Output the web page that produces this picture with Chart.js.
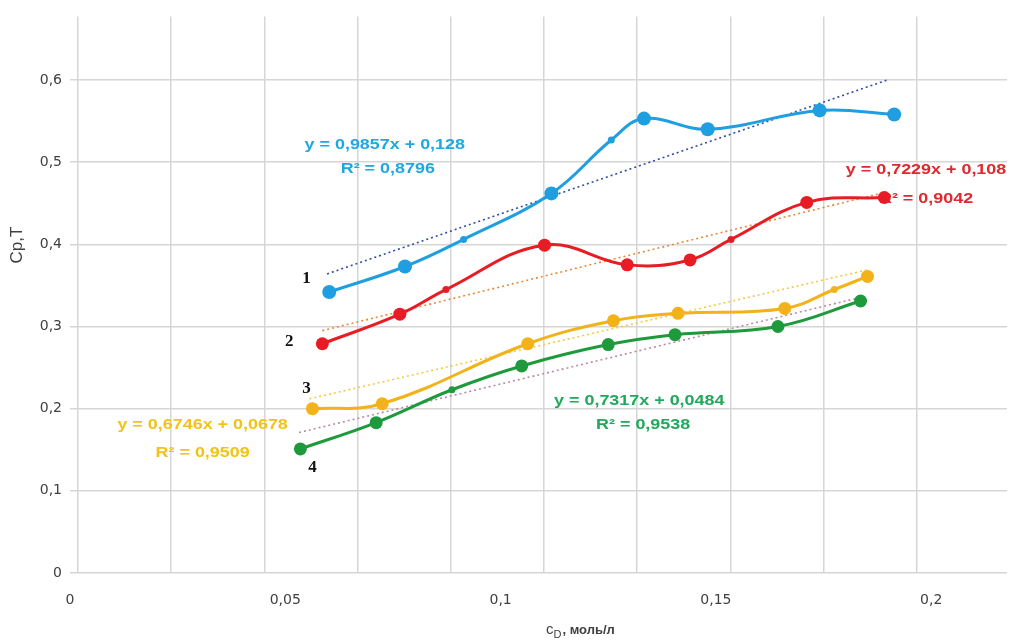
<!DOCTYPE html>
<html lang="ru">
<head>
<meta charset="utf-8">
<title>Cр,Т — cD</title>
<script src="https://cdn.jsdelivr.net/npm/chart.js@4.4.1/dist/chart.umd.min.js"></script>
<style>
  html, body { margin: 0; padding: 0; background: #ffffff; }
  #wrap { width: 1014px; height: 644px; position: relative; }
  canvas { display: block; }
</style>
</head>
<body>
<div id="wrap"><canvas id="chart" width="1014" height="644"></canvas></div>
<script>
// Concentration (моль/л) and Cр,Т values for the four curves
const conc1 = [0.0602, 0.0778, 0.0914, 0.1118, 0.1257, 0.1333, 0.1481, 0.1741, 0.1914];
const cpt1  = [0.342, 0.373, 0.406, 0.462, 0.527, 0.553, 0.540, 0.563, 0.558];

const conc2 = [0.0586, 0.0766, 0.0873, 0.1102, 0.1294, 0.1440, 0.1535, 0.1711, 0.1891];
const cpt2  = [0.279, 0.315, 0.345, 0.399, 0.375, 0.381, 0.406, 0.451, 0.457];

const conc3 = [0.0563, 0.0725, 0.1063, 0.1262, 0.1412, 0.1660, 0.1775, 0.1852];
const cpt3  = [0.200, 0.206, 0.279, 0.307, 0.316, 0.322, 0.345, 0.361];

const conc4 = [0.0535, 0.0711, 0.0887, 0.1049, 0.1250, 0.1405, 0.1644, 0.1836];
const cpt4  = [0.151, 0.183, 0.223, 0.252, 0.278, 0.290, 0.300, 0.331];

// Linear trend lines (end points)
const trendX1 = [0.0597, 0.1898], trendY1 = [0.364, 0.600];
const trendX2 = [0.0586, 0.1891], trendY2 = [0.295, 0.463];
const trendX3 = [0.0556, 0.1852], trendY3 = [0.212, 0.369];
const trendX4 = [0.0532, 0.1833], trendY4 = [0.171, 0.335];

// Which points carry a large marker
const big1 = [1, 1, 0, 1, 0, 1, 1, 1, 1];
const big2 = [1, 1, 0, 1, 1, 1, 0, 1, 1];
const big3 = [1, 1, 1, 1, 1, 1, 0, 1];
const big4 = [1, 1, 0, 1, 1, 1, 1, 1];

// Tick values and curve labels
const xTicks = [0, 0.05, 0.1, 0.15, 0.2];
const yTicks = [0, 0.1, 0.2, 0.3, 0.4, 0.5, 0.6];
const gridSteps = [0, 1, 2, 3, 4, 5, 6, 7, 8, 9];
const curveNames = ['1', '2', '3', '4'];
const equations = [
  ['y = 0,9857x + 0,128', 'R² = 0,8796'],
  ['y = 0,7229x + 0,108', 'R² = 0,9042'],
  ['y = 0,6746x + 0,0678', 'R² = 0,9509'],
  ['y = 0,7317x + 0,0484', 'R² = 0,9538']
];

const pts = (xs, ys) => xs.map((x, i) => ({ x: x, y: ys[i] }));
const fmt = v => String(Math.round(v * 1000) / 1000).replace('.', ',');

const colors = ['#1f9fe0', '#e81c24', '#f4b21a', '#1e9a3c'];
const textColors = ['#1fa8e0', '#e0282e', '#f2c316', '#22a85a'];
const trendColors = ['#2f4fa0', '#e6893a', '#f5c842', '#b98aa8'];
const bigRadius = [7, 6.5, 6.5, 6.5];

function curve(xs, ys, big, color, r) {
  return {
    data: pts(xs, ys),
    borderColor: color,
    backgroundColor: color,
    borderWidth: 3,
    tension: 0.4,
    pointRadius: big.map(b => b ? r : 3.5),
    pointBorderWidth: 0,
    pointHoverRadius: r,
    xAxisID: 'x',
    yAxisID: 'y'
  };
}
function trend(xs, ys, color) {
  return {
    data: pts(xs, ys),
    borderColor: color,
    borderWidth: 1.6,
    borderDash: [2, 3],
    pointRadius: 0,
    tension: 0,
    xAxisID: 'x',
    yAxisID: 'y'
  };
}

// Equation texts, curve numbers and axis titles
const notesPlugin = {
  id: 'notes',
  beforeDatasetsDraw(chart) {
    const ctx = chart.ctx;
    const xs = chart.scales.x, ys = chart.scales.y;
    const eqPos = [
      [[0.0731, 0.521], [0.0738, 0.491]],
      [[0.1988, 0.490], [0.1988, 0.455]],
      [[0.0308, 0.180], [0.0308, 0.146]],
      [[0.1322, 0.209], [0.1331, 0.180]]
    ];
    ctx.save();
    ctx.font = 'bold 14px "Liberation Sans", Arial, sans-serif';
    ctx.textAlign = 'center';
    ctx.textBaseline = 'middle';
    equations.forEach((lines, k) => {
      ctx.fillStyle = textColors[k];
      lines.forEach((t, j) => {
        const px = xs.getPixelForValue(eqPos[k][j][0]);
        const py = ys.getPixelForValue(eqPos[k][j][1]);
        ctx.save();
        ctx.translate(px, py);
        ctx.scale(1.28, 1);
        ctx.fillText(t, 0, 0);
        ctx.restore();
      });
    });
    ctx.restore();
  },
  afterDraw(chart) {
    const ctx = chart.ctx;
    const xs = chart.scales.x, ys = chart.scales.y;
    const namePos = [[0.0549, 0.358], [0.0509, 0.282], [0.0549, 0.224], [0.0563, 0.128]];
    ctx.save();
    ctx.fillStyle = '#111111';
    ctx.font = 'bold 17px "Liberation Serif", "Times New Roman", serif';
    ctx.textAlign = 'center';
    ctx.textBaseline = 'middle';
    curveNames.forEach((n, k) => {
      ctx.fillText(n, xs.getPixelForValue(namePos[k][0]), ys.getPixelForValue(namePos[k][1]));
    });

    // y-axis title
    ctx.fillStyle = '#404040';
    ctx.font = '17px "Liberation Sans", Arial, sans-serif';
    ctx.save();
    ctx.translate(17, 245);
    ctx.rotate(-Math.PI / 2);
    ctx.fillText('Ср,Т', 0, 0);
    ctx.restore();

    // x-axis title with subscript
    ctx.textAlign = 'left';
    ctx.textBaseline = 'alphabetic';
    let x0 = 546, y0 = 634;
    ctx.font = '15px "Liberation Sans", Arial, sans-serif';
    ctx.fillText('c', x0, y0);
    x0 += ctx.measureText('c').width;
    ctx.font = '11px "Liberation Sans", Arial, sans-serif';
    ctx.fillText('D', x0, y0 + 4);
    x0 += ctx.measureText('D').width + 1;
    ctx.font = 'bold 13px "Liberation Sans", Arial, sans-serif';
    ctx.fillText(', моль/л', x0, y0);
    ctx.restore();
  }
};

new Chart(document.getElementById('chart'), {
  type: 'line',
  data: {
    datasets: [
      curve(conc1, cpt1, big1, colors[0], bigRadius[0]),
      curve(conc2, cpt2, big2, colors[1], bigRadius[1]),
      curve(conc3, cpt3, big3, colors[2], bigRadius[2]),
      curve(conc4, cpt4, big4, colors[3], bigRadius[3]),
      trend(trendX1, trendY1, trendColors[0]),
      trend(trendX2, trendY2, trendColors[1]),
      trend(trendX3, trendY3, trendColors[2]),
      trend(trendX4, trendY4, trendColors[3])
    ]
  },
  options: {
    responsive: false,
    devicePixelRatio: 1,
    animation: false,
    layout: { padding: { top: 13, right: 4, bottom: 0, left: 0 } },
    plugins: { legend: { display: false }, tooltip: { enabled: false } },
    scales: {
      x: {
        type: 'linear',
        position: 'bottom',
        min: 0,
        max: 0.2176,
        afterBuildTicks: s => { s.ticks = xTicks.map(v => ({ value: v })); },
        afterFit: s => { s.height = 71; },
        grid: { display: false, drawTicks: false },
        border: { display: false },
        ticks: {
          padding: 19,
          color: '#404040',
          font: { family: '"DejaVu Sans", sans-serif', size: 14 },
          maxRotation: 0,
          callback: v => fmt(v)
        }
      },
      xg: {
        type: 'linear',
        position: 'bottom',
        min: -0.0856,
        max: 9.968,
        afterBuildTicks: s => { s.ticks = gridSteps.map(v => ({ value: v })); },
        afterFit: s => { s.height = 0; },
        grid: { color: '#d6d6d6', lineWidth: 1.5, drawTicks: false },
        border: { display: false },
        ticks: { display: false }
      },
      y: {
        type: 'linear',
        min: 0,
        max: 0.6774,
        afterBuildTicks: s => { s.ticks = yTicks.map(v => ({ value: v })); },
        afterFit: s => { s.width = 70; },
        grid: { color: '#d6d6d6', lineWidth: 1.5, drawTicks: false },
        border: { display: false },
        ticks: {
          padding: 8,
          color: '#404040',
          font: { family: '"DejaVu Sans", sans-serif', size: 14 },
          callback: v => fmt(v)
        }
      }
    }
  },
  plugins: [notesPlugin]
});
</script>
</body>
</html>
